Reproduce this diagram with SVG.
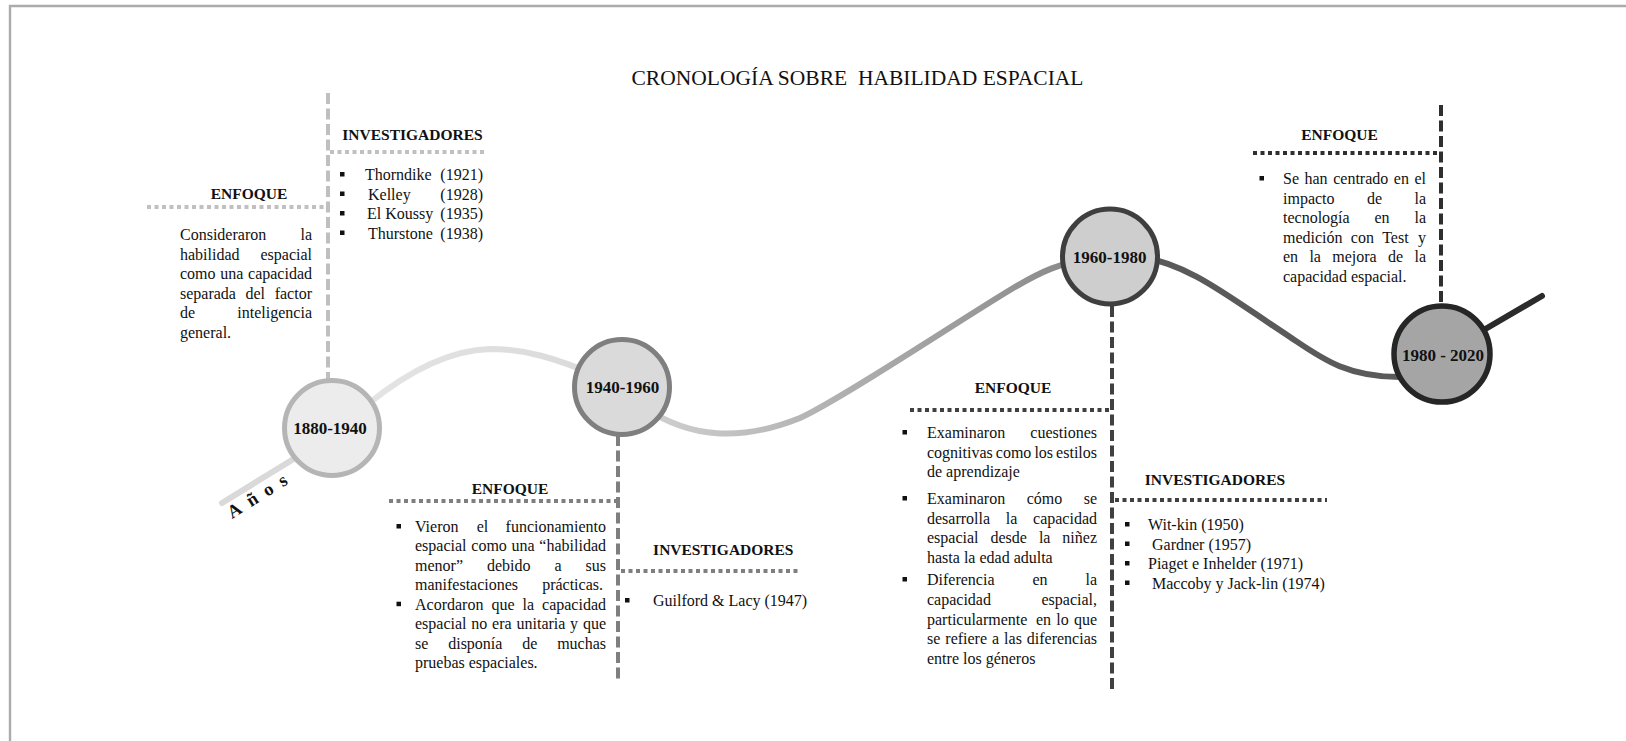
<svg xmlns="http://www.w3.org/2000/svg" width="1626" height="741" viewBox="0 0 1626 741">
<defs>
  <linearGradient id="seg12" gradientUnits="userSpaceOnUse" x1="360" y1="0" x2="600" y2="0">
    <stop offset="0" stop-color="#e4e4e4"/><stop offset="1" stop-color="#dadada"/>
  </linearGradient>
  <linearGradient id="seg23" gradientUnits="userSpaceOnUse" x1="650" y1="0" x2="1070" y2="0">
    <stop offset="0" stop-color="#cfcfcf"/><stop offset="1" stop-color="#8a8a8a"/>
  </linearGradient>
  <style>
    text { font-family: "Liberation Serif", "Times New Roman", serif; fill: #111; }
    .title { font-size: 21.5px; text-anchor: middle; white-space: pre; }
    .body { font-size: 16px; }
    .hd { font-size: 15.5px; font-weight: bold; text-anchor: middle; }
    .era { font-size: 17px; font-weight: bold; text-anchor: middle; }
    .end { text-anchor: end; }
    .tl { fill: none; stroke-width: 6; stroke-linecap: round; }
    .dash { fill: none; stroke-width: 4; stroke-dasharray: 11 4.5; }
    .dot { fill: none; stroke-width: 4; stroke-dasharray: 4 3.5; }
    .blt { fill: #111; }
  </style>
</defs>

<rect width="1626" height="741" fill="#ffffff"/>

<!-- page frame -->
<g id="frame">
  <path d="M10 741 V6 H1626" fill="none" stroke="#ababab" stroke-width="2.4"/>
</g>

<text class="title" x="857.5" y="85">CRONOLOGÍA SOBRE  HABILIDAD ESPACIAL</text>

<!-- timeline curve -->
<g id="connectors">
  <path class="tl" d="M222 503 L305 452" stroke="#d9d9d9"/>
  <path class="tl" d="M368 404 C410 370 450 350 490 349 C525 349 555 358 598 376" stroke="url(#seg12)"/>
  <path class="tl" d="M645 408 C690 438 740 442 800 418 C840 400 960 320 1010 290 C1040 272 1060 262 1100 257" stroke="url(#seg23)"/>
  <path class="tl" d="M1140 257 C1190 264 1230 298 1290 337 C1320 357 1345 377 1400 377" stroke="#5a5a5a"/>
  <path class="tl" d="M1470 338 L1542 296" stroke="#2b2b2b"/>
  <text font-size="18.5" font-weight="bold" letter-spacing="9" transform="translate(232 519) rotate(-32)">Años</text>
</g>

<!-- 1880-1940 -->
<g id="era-1880-1940">
  <path class="dash" d="M328 93 V380" stroke="#bfbfbf"/>
  <path class="dot" d="M147 207 H327" stroke="#c0c0c0"/>
  <path class="dot" d="M330 152 H487" stroke="#c0c0c0"/>
  <circle cx="332" cy="428" r="47.5" fill="#ececec" stroke="#b5b5b5" stroke-width="5"/>
  <text class="era" x="330" y="433.5">1880-1940</text>

  <text class="hd" x="249" y="199">ENFOQUE</text>
  <text class="body" y="240"><tspan x="180">Consideraron</tspan><tspan class="end" x="312">la</tspan></text>
  <text class="body" y="259.6"><tspan x="180">habilidad</tspan><tspan class="end" x="312">espacial</tspan></text>
  <text class="body" y="279.2"><tspan x="180">como</tspan><tspan x="220.3">una</tspan><tspan class="end" x="312">capacidad</tspan></text>
  <text class="body" y="298.8"><tspan x="180">separada</tspan><tspan x="245.5">del</tspan><tspan class="end" x="312">factor</tspan></text>
  <text class="body" y="318.4"><tspan x="180">de</tspan><tspan class="end" x="312">inteligencia</tspan></text>
  <text class="body" x="180" y="338">general.</text>

  <text class="hd" x="412.5" y="140">INVESTIGADORES</text>
  <rect class="blt" x="340" y="172" width="4.5" height="4.5"/>
  <rect class="blt" x="340" y="191.5" width="4.5" height="4.5"/>
  <rect class="blt" x="340" y="211" width="4.5" height="4.5"/>
  <rect class="blt" x="340" y="230.5" width="4.5" height="4.5"/>
  <text class="body" y="180"><tspan x="365">Thorndike</tspan><tspan class="end" x="483">(1921)</tspan></text>
  <text class="body" y="199.5"><tspan x="368">Kelley</tspan><tspan class="end" x="483">(1928)</tspan></text>
  <text class="body" y="219"><tspan x="367">El Koussy</tspan><tspan class="end" x="483">(1935)</tspan></text>
  <text class="body" y="238.5"><tspan x="368">Thurstone</tspan><tspan class="end" x="483">(1938)</tspan></text>
</g>

<!-- 1940-1960 -->
<g id="era-1940-1960">
  <path class="dash" d="M618 435 V681" stroke="#7f7f7f"/>
  <path class="dot" d="M389 501 H616" stroke="#7f7f7f"/>
  <path class="dot" d="M621 571 H798" stroke="#7f7f7f"/>
  <circle cx="622" cy="387" r="47.5" fill="#dadada" stroke="#7f7f7f" stroke-width="5"/>
  <text class="era" x="622.5" y="393">1940-1960</text>

  <text class="hd" x="510" y="494">ENFOQUE</text>
  <rect class="blt" x="396.5" y="524" width="4.5" height="4.5"/>
  <rect class="blt" x="396.5" y="601.7" width="4.5" height="4.5"/>
  <text class="body" y="532"><tspan x="415">Vieron</tspan><tspan x="476.7">el</tspan><tspan class="end" x="606">funcionamiento</tspan></text>
  <text class="body" y="551.4"><tspan x="415">espacial</tspan><tspan x="471.3">como</tspan><tspan x="511.5">una</tspan><tspan class="end" x="606">“habilidad</tspan></text>
  <text class="body" y="570.9"><tspan x="415">menor”</tspan><tspan x="487">debido</tspan><tspan x="554.5">a</tspan><tspan class="end" x="606">sus</tspan></text>
  <text class="body" y="590.3"><tspan x="415">manifestaciones</tspan><tspan class="end" x="603">prácticas.</tspan></text>
  <text class="body" y="609.7"><tspan x="415">Acordaron</tspan><tspan x="491.4">que</tspan><tspan x="522.5">la</tspan><tspan class="end" x="606">capacidad</tspan></text>
  <text class="body" y="629.1"><tspan x="415">espacial</tspan><tspan x="471.3">no</tspan><tspan x="492.1">era</tspan><tspan x="516.5">unitaria</tspan><tspan x="570.1">y</tspan><tspan class="end" x="606">que</tspan></text>
  <text class="body" y="648.6"><tspan x="415">se</tspan><tspan x="448.2">disponía</tspan><tspan x="522.2">de</tspan><tspan class="end" x="606">muchas</tspan></text>
  <text class="body" x="415" y="668">pruebas espaciales.</text>

  <text class="hd" x="723.3" y="555">INVESTIGADORES</text>
  <rect class="blt" x="625" y="598" width="4.5" height="4.5"/>
  <text class="body" x="653" y="606">Guilford &amp; Lacy (1947)</text>
</g>

<!-- 1960-1980 -->
<g id="era-1960-1980">
  <path class="dash" d="M1112 306 V690" stroke="#404040"/>
  <path class="dot" d="M910 410 H1110" stroke="#404040"/>
  <path class="dot" d="M1115 500 H1327" stroke="#404040"/>
  <circle cx="1110" cy="256.5" r="47.5" fill="#cecece" stroke="#3f3f3f" stroke-width="5"/>
  <text class="era" x="1109.7" y="263">1960-1980</text>

  <text class="hd" x="1013" y="393">ENFOQUE</text>
  <rect class="blt" x="902.5" y="430" width="4.5" height="4.5"/>
  <rect class="blt" x="902.5" y="496" width="4.5" height="4.5"/>
  <rect class="blt" x="902.5" y="577" width="4.5" height="4.5"/>
  <text class="body" y="438"><tspan x="927">Examinaron</tspan><tspan class="end" x="1097">cuestiones</tspan></text>
  <text class="body" y="457.5"><tspan x="927">cognitivas</tspan><tspan x="995.8">como</tspan><tspan x="1034.4">los</tspan><tspan class="end" x="1097">estilos</tspan></text>
  <text class="body" x="927" y="477">de aprendizaje</text>
  <text class="body" y="504"><tspan x="927">Examinaron</tspan><tspan x="1026.7">cómo</tspan><tspan class="end" x="1097">se</tspan></text>
  <text class="body" y="523.5"><tspan x="927">desarrolla</tspan><tspan x="1005.8">la</tspan><tspan class="end" x="1097">capacidad</tspan></text>
  <text class="body" y="543"><tspan x="927">espacial</tspan><tspan x="990.5">desde</tspan><tspan x="1038.9">la</tspan><tspan class="end" x="1097">niñez</tspan></text>
  <text class="body" x="927" y="562.5">hasta la edad adulta</text>
  <text class="body" y="585"><tspan x="927">Diferencia</tspan><tspan x="1032.4">en</tspan><tspan class="end" x="1097">la</tspan></text>
  <text class="body" y="604.5"><tspan x="927">capacidad</tspan><tspan class="end" x="1097">espacial,</tspan></text>
  <text class="body" y="624.5"><tspan x="927">particularmente</tspan><tspan x="1035.9">en</tspan><tspan x="1056.2">lo</tspan><tspan class="end" x="1097">que</tspan></text>
  <text class="body" y="644"><tspan x="927">se</tspan><tspan x="945.3">refiere</tspan><tspan x="992">a</tspan><tspan x="1004.1">las</tspan><tspan class="end" x="1097">diferencias</tspan></text>
  <text class="body" x="927" y="663.5">entre los géneros</text>

  <text class="hd" x="1215" y="485">INVESTIGADORES</text>
  <rect class="blt" x="1125" y="522" width="4.5" height="4.5"/>
  <rect class="blt" x="1125" y="541.5" width="4.5" height="4.5"/>
  <rect class="blt" x="1125" y="561" width="4.5" height="4.5"/>
  <rect class="blt" x="1125" y="580.5" width="4.5" height="4.5"/>
  <text class="body" x="1148" y="530">Wit-kin (1950)</text>
  <text class="body" x="1152" y="549.5">Gardner (1957)</text>
  <text class="body" x="1148" y="569">Piaget e Inhelder (1971)</text>
  <text class="body" x="1152" y="588.5">Maccoby y Jack-lin (1974)</text>
</g>

<!-- 1980 - 2020 -->
<g id="era-1980-2020">
  <path class="dash" d="M1441 105 V304" stroke="#2f2f2f"/>
  <path class="dot" d="M1253 153 H1439" stroke="#2f2f2f"/>
  <circle cx="1442" cy="354" r="48" fill="#a5a5a5" stroke="#262626" stroke-width="5.5"/>
  <text class="era" x="1443" y="361">1980 - 2020</text>

  <text class="hd" x="1339.5" y="140">ENFOQUE</text>
  <rect class="blt" x="1259.5" y="176" width="4.5" height="4.5"/>
  <text class="body" y="184"><tspan x="1283">Se</tspan><tspan x="1304.5">han</tspan><tspan x="1333.2">centrado</tspan><tspan x="1393.8">en</tspan><tspan class="end" x="1426">el</tspan></text>
  <text class="body" y="203.6"><tspan x="1283">impacto</tspan><tspan x="1367">de</tspan><tspan class="end" x="1426">la</tspan></text>
  <text class="body" y="223.2"><tspan x="1283">tecnología</tspan><tspan x="1374.5">en</tspan><tspan class="end" x="1426">la</tspan></text>
  <text class="body" y="242.8"><tspan x="1283">medición</tspan><tspan x="1350.8">con</tspan><tspan x="1382.2">Test</tspan><tspan class="end" x="1426">y</tspan></text>
  <text class="body" y="262.4"><tspan x="1283">en</tspan><tspan x="1309.4">la</tspan><tspan x="1332.3">mejora</tspan><tspan x="1388">de</tspan><tspan class="end" x="1426">la</tspan></text>
  <text class="body" x="1283" y="282">capacidad espacial.</text>
</g>
</svg>
